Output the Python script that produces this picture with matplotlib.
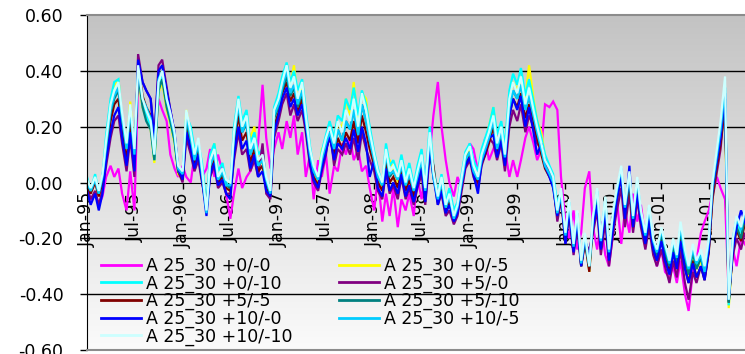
import matplotlib
matplotlib.use('Agg')
import matplotlib.pyplot as plt
import numpy as np
import pandas as pd
from matplotlib.colors import LinearSegmentedColormap

# ---------------- data ----------------
start_date = '1995-01-01'
n_points = 168  # semi-monthly observations, Jan-95 .. Dec-01

series_labels = ['A 25_30 +0/-0', 'A 25_30 +0/-5', 'A 25_30 +0/-10',
                 'A 25_30 +5/-0', 'A 25_30 +5/-5', 'A 25_30 +5/-10',
                 'A 25_30 +10/-0', 'A 25_30 +10/-5', 'A 25_30 +10/-10']

s_0_0 = [-0.02, -0.06, -0.04, -0.08, -0.05, 0.02, 0.06, 0.02, 0.05, -0.04, -0.10, 0.04,
         -0.10, 0.36, 0.30, 0.26, 0.22, 0.12, 0.30, 0.26, 0.22, 0.10, 0.05, 0.02,
         0.06, 0.02, 0.00, 0.10, 0.14, 0.02, 0.05, 0.12, 0.02, 0.10, 0.04, -0.04,
         -0.13, -0.04, 0.05, -0.02, 0.02, 0.04, 0.08, 0.14, 0.35, 0.16, 0.05, 0.12,
         0.18, 0.12, 0.22, 0.16, 0.24, 0.10, 0.18, 0.02, 0.10, -0.06, 0.08, 0.02,
         0.10, -0.04, 0.06, 0.04, 0.14, 0.10, 0.16, 0.08, 0.12, 0.04, 0.06, -0.02,
         -0.10, 0.02, -0.14, -0.04, -0.12, -0.02, -0.16, -0.06, -0.10, -0.04, -0.12, 0.02,
         -0.06, 0.04, 0.10, 0.24, 0.36, 0.20, 0.08, 0.00, -0.05, 0.02, -0.02, 0.06,
         0.14, 0.12, 0.04, 0.10, 0.16, 0.08, 0.12, 0.16, 0.20, 0.12, 0.02, 0.08,
         0.02, 0.08, 0.16, 0.20, 0.14, 0.08, 0.12, 0.28, 0.27, 0.29, 0.26, 0.02,
         -0.14, -0.20, -0.10, -0.24, -0.18, -0.02, 0.04, -0.16, -0.24, -0.14, -0.26, -0.30,
         -0.18, -0.06, -0.22, -0.10, -0.18, -0.04, -0.14, -0.08, -0.20, -0.14, -0.24, -0.30,
         -0.24, -0.32, -0.34, -0.30, -0.36, -0.28, -0.40, -0.46, -0.32, -0.28, -0.18, -0.14,
         -0.10, -0.04, 0.02, -0.02, -0.06, -0.40, -0.24, -0.30, -0.20, -0.22, -0.18, -0.20]

s_0_5 = [0.01, -0.03, 0.02, -0.05, 0.01, 0.14, 0.27, 0.34, 0.37, 0.22, 0.11, 0.29,
         0.09, 0.38, 0.27, 0.23, 0.19, 0.07, 0.32, 0.36, 0.26, 0.21, 0.14, 0.03,
         0.01, 0.26, 0.16, 0.09, 0.12, 0.04, -0.10, 0.08, 0.14, 0.02, 0.04, -0.02,
         -0.03, 0.16, 0.28, 0.19, 0.22, 0.16, 0.20, 0.08, 0.07, -0.01, -0.05, 0.24,
         0.30, 0.37, 0.41, 0.35, 0.42, 0.30, 0.34, 0.23, 0.10, 0.04, 0.00, 0.12,
         0.14, 0.19, 0.12, 0.21, 0.20, 0.30, 0.24, 0.36, 0.20, 0.32, 0.30, 0.17,
         0.08, 0.03, -0.02, 0.10, 0.08, 0.05, 0.00, 0.07, -0.01, 0.03, -0.03, 0.03,
         0.09, -0.02, 0.16, 0.03, -0.06, 0.01, -0.08, -0.04, -0.11, -0.08, 0.01, 0.09,
         0.12, 0.05, 0.02, 0.09, 0.13, 0.20, 0.27, 0.14, 0.19, 0.12, 0.30, 0.36,
         0.33, 0.38, 0.30, 0.42, 0.30, 0.22, 0.18, 0.09, 0.04, 0.01, -0.10, -0.04,
         -0.21, -0.08, -0.25, -0.11, -0.30, -0.19, -0.32, -0.13, -0.04, -0.22, -0.08, -0.27,
         -0.13, -0.04, 0.03, -0.11, 0.01, -0.14, 0.00, -0.12, -0.21, -0.11, -0.23, -0.27,
         -0.19, -0.25, -0.31, -0.23, -0.29, -0.18, -0.28, -0.34, -0.26, -0.31, -0.28, -0.34,
         -0.24, -0.06, 0.05, 0.14, 0.26, -0.45, -0.24, -0.16, -0.20, -0.14, -0.18, -0.16]

s_0_10 = [0.02, -0.03, 0.03, -0.04, 0.02, 0.17, 0.30, 0.36, 0.37, 0.23, 0.12, 0.27,
          0.10, 0.40, 0.28, 0.24, 0.20, 0.08, 0.33, 0.38, 0.28, 0.22, 0.15, 0.04,
          0.02, 0.24, 0.20, 0.12, 0.14, 0.07, -0.08, 0.10, 0.14, 0.04, 0.07, 0.00,
          -0.02, 0.20, 0.31, 0.22, 0.26, 0.14, 0.18, 0.10, 0.12, 0.00, -0.05, 0.27,
          0.32, 0.38, 0.43, 0.36, 0.40, 0.33, 0.37, 0.26, 0.13, 0.05, 0.01, 0.11,
          0.17, 0.22, 0.16, 0.24, 0.22, 0.30, 0.26, 0.34, 0.24, 0.33, 0.28, 0.20,
          0.11, 0.05, -0.01, 0.14, 0.06, 0.08, 0.03, 0.10, 0.02, 0.07, -0.01, 0.06,
          0.12, 0.00, 0.20, 0.06, -0.04, 0.03, -0.07, -0.02, -0.10, -0.07, 0.03, 0.11,
          0.14, 0.08, 0.04, 0.12, 0.16, 0.20, 0.27, 0.17, 0.22, 0.13, 0.33, 0.39,
          0.35, 0.41, 0.31, 0.37, 0.29, 0.22, 0.16, 0.10, 0.06, 0.03, -0.08, -0.03,
          -0.20, -0.08, -0.24, -0.12, -0.30, -0.20, -0.31, -0.14, -0.04, -0.22, -0.07, -0.26,
          -0.12, -0.04, 0.04, -0.10, 0.02, -0.14, 0.00, -0.12, -0.20, -0.10, -0.22, -0.26,
          -0.18, -0.24, -0.30, -0.22, -0.28, -0.17, -0.27, -0.32, -0.25, -0.30, -0.27, -0.32,
          -0.22, -0.02, 0.10, 0.20, 0.34, -0.44, -0.22, -0.14, -0.18, -0.12, -0.16, -0.14]

s_5_0 = [-0.02, -0.06, -0.03, -0.08, -0.03, 0.06, 0.16, 0.22, 0.24, 0.14, 0.04, 0.16,
         0.02, 0.46, 0.36, 0.33, 0.30, 0.16, 0.42, 0.44, 0.34, 0.26, 0.18, 0.04,
         0.00, 0.16, 0.10, 0.04, 0.08, 0.00, -0.08, 0.02, 0.06, -0.02, 0.00, -0.04,
         -0.04, 0.08, 0.18, 0.10, 0.12, 0.04, 0.08, 0.02, 0.14, -0.04, -0.06, 0.16,
         0.22, 0.28, 0.32, 0.24, 0.28, 0.22, 0.26, 0.18, 0.06, 0.00, -0.03, 0.04,
         0.10, 0.20, 0.06, 0.12, 0.10, 0.14, 0.10, 0.16, 0.08, 0.18, 0.12, 0.08,
         0.04, -0.03, -0.06, 0.04, -0.04, -0.01, -0.06, 0.02, -0.06, -0.02, -0.08, -0.02,
         0.03, -0.08, 0.10, 0.04, -0.08, -0.04, -0.12, -0.10, -0.15, -0.12, -0.03, 0.05,
         0.08, 0.02, -0.02, 0.06, 0.10, 0.16, 0.14, 0.08, 0.14, 0.04, 0.20, 0.26,
         0.22, 0.28, 0.18, 0.24, 0.20, 0.14, 0.12, 0.08, 0.04, 0.00, -0.14, -0.06,
         -0.22, -0.12, -0.26, -0.16, -0.30, -0.22, -0.24, -0.18, -0.10, -0.26, -0.14, -0.30,
         -0.18, -0.10, -0.02, -0.16, -0.04, -0.18, -0.06, -0.16, -0.24, -0.16, -0.26, -0.30,
         -0.24, -0.30, -0.36, -0.28, -0.34, -0.24, -0.36, -0.42, -0.32, -0.36, -0.30, -0.34,
         -0.24, -0.06, 0.04, 0.12, 0.30, -0.40, -0.26, -0.20, -0.24, -0.18, -0.22, -0.20]

s_5_5 = [-0.01, -0.04, 0.00, -0.05, 0.00, 0.10, 0.22, 0.28, 0.30, 0.18, 0.08, 0.22,
         0.07, 0.42, 0.31, 0.27, 0.24, 0.10, 0.37, 0.40, 0.29, 0.23, 0.16, 0.04,
         0.01, 0.20, 0.13, 0.06, 0.11, 0.01, -0.10, 0.04, 0.08, 0.00, 0.02, -0.02,
         -0.03, 0.13, 0.24, 0.15, 0.18, 0.07, 0.12, 0.04, 0.06, -0.02, -0.05, 0.20,
         0.25, 0.32, 0.36, 0.29, 0.32, 0.25, 0.30, 0.20, 0.08, 0.02, -0.01, 0.06,
         0.12, 0.16, 0.10, 0.16, 0.12, 0.18, 0.15, 0.22, 0.14, 0.24, 0.18, 0.12,
         0.06, 0.00, -0.03, 0.07, 0.00, 0.02, -0.02, 0.04, -0.03, 0.01, -0.05, 0.01,
         0.06, -0.05, 0.12, 0.06, -0.07, -0.02, -0.10, -0.07, -0.13, -0.10, -0.01, 0.07,
         0.10, 0.03, 0.00, 0.07, 0.10, 0.14, 0.20, 0.11, 0.16, 0.07, 0.24, 0.30,
         0.27, 0.32, 0.23, 0.28, 0.22, 0.16, 0.10, 0.05, 0.02, -0.01, -0.12, -0.05,
         -0.21, -0.09, -0.24, -0.13, -0.30, -0.21, -0.32, -0.15, -0.06, -0.23, -0.09, -0.27,
         -0.14, -0.06, 0.02, -0.12, 0.00, -0.16, -0.02, -0.14, -0.22, -0.12, -0.24, -0.28,
         -0.20, -0.27, -0.32, -0.25, -0.31, -0.20, -0.30, -0.36, -0.28, -0.34, -0.30, -0.35,
         -0.25, -0.05, 0.06, 0.14, 0.28, -0.43, -0.24, -0.17, -0.21, -0.15, -0.18, -0.16]

s_5_10 = [0.00, -0.03, 0.01, -0.04, 0.02, 0.13, 0.25, 0.30, 0.33, 0.22, 0.12, 0.25,
          0.10, 0.40, 0.27, 0.22, 0.19, 0.08, 0.33, 0.37, 0.27, 0.22, 0.15, 0.04,
          0.02, 0.22, 0.15, 0.08, 0.13, 0.03, -0.09, 0.06, 0.10, 0.01, 0.03, -0.01,
          -0.02, 0.16, 0.27, 0.18, 0.21, 0.10, 0.14, 0.06, 0.08, 0.00, -0.04, 0.23,
          0.27, 0.33, 0.38, 0.31, 0.34, 0.27, 0.32, 0.22, 0.10, 0.04, 0.01, 0.08,
          0.14, 0.17, 0.12, 0.19, 0.15, 0.22, 0.19, 0.26, 0.17, 0.28, 0.22, 0.15,
          0.08, 0.02, -0.01, 0.10, 0.02, 0.04, 0.01, 0.06, -0.01, 0.03, -0.03, 0.02,
          0.08, -0.03, 0.15, 0.02, -0.06, 0.00, -0.09, -0.05, -0.12, -0.09, 0.00, 0.08,
          0.11, 0.04, 0.01, 0.08, 0.12, 0.16, 0.22, 0.12, 0.18, 0.09, 0.27, 0.33,
          0.30, 0.35, 0.26, 0.31, 0.24, 0.18, 0.12, 0.06, 0.03, 0.00, -0.11, -0.04,
          -0.21, -0.09, -0.23, -0.13, -0.29, -0.21, -0.30, -0.15, -0.05, -0.21, -0.08, -0.25,
          -0.13, -0.05, 0.03, -0.11, 0.01, -0.15, -0.01, -0.13, -0.21, -0.11, -0.23, -0.27,
          -0.18, -0.25, -0.30, -0.23, -0.29, -0.17, -0.27, -0.33, -0.25, -0.31, -0.27, -0.33,
          -0.23, -0.03, 0.08, 0.17, 0.30, -0.43, -0.22, -0.16, -0.20, -0.13, -0.17, -0.15]

s_10_0 = [-0.03, -0.08, -0.04, -0.10, -0.04, 0.08, 0.18, 0.24, 0.27, 0.16, 0.06, 0.18,
          0.04, 0.44, 0.36, 0.33, 0.30, 0.15, 0.40, 0.42, 0.33, 0.26, 0.18, 0.05,
          0.01, 0.18, 0.12, 0.05, 0.10, 0.01, -0.12, 0.03, 0.07, -0.01, 0.01, -0.04,
          -0.06, 0.10, 0.20, 0.12, 0.15, 0.05, 0.10, 0.02, 0.04, -0.03, -0.05, 0.18,
          0.24, 0.30, 0.34, 0.27, 0.30, 0.24, 0.28, 0.20, 0.07, 0.01, -0.02, 0.05,
          0.11, 0.17, 0.08, 0.14, 0.12, 0.16, 0.12, 0.19, 0.11, 0.20, 0.14, 0.02,
          0.08, -0.02, -0.05, 0.05, -0.03, 0.00, -0.04, 0.03, -0.05, -0.01, -0.07, -0.01,
          0.05, -0.07, 0.12, 0.02, -0.08, -0.03, -0.11, -0.08, -0.14, -0.11, -0.01, 0.06,
          0.09, 0.03, -0.04, 0.07, 0.11, 0.16, 0.17, 0.09, 0.15, 0.06, 0.24, 0.30,
          0.26, 0.31, 0.20, 0.27, 0.18, 0.10, 0.14, 0.06, 0.02, -0.02, -0.12, -0.04,
          -0.22, -0.10, -0.25, -0.14, -0.30, -0.20, -0.27, -0.16, -0.08, -0.24, -0.10, -0.28,
          -0.16, -0.06, 0.02, -0.13, 0.06, -0.16, -0.04, -0.14, -0.22, -0.13, -0.24, -0.28,
          -0.21, -0.28, -0.33, -0.25, -0.31, -0.21, -0.31, -0.36, -0.29, -0.34, -0.30, -0.35,
          -0.24, -0.02, 0.08, 0.16, 0.32, -0.42, -0.24, -0.16, -0.10, -0.14, -0.18, -0.16]

s_10_5 = [0.00, -0.03, 0.01, -0.04, 0.02, 0.13, 0.26, 0.31, 0.34, 0.23, 0.12, 0.26,
          0.10, 0.41, 0.30, 0.27, 0.23, 0.10, 0.37, 0.40, 0.30, 0.24, 0.17, 0.05,
          0.03, 0.24, 0.16, 0.08, 0.14, 0.03, -0.11, 0.06, 0.10, 0.01, 0.04, -0.01,
          -0.01, 0.16, 0.28, 0.18, 0.22, 0.10, 0.14, 0.06, 0.08, 0.01, -0.04, 0.24,
          0.28, 0.34, 0.40, 0.32, 0.35, 0.28, 0.33, 0.22, 0.10, 0.04, 0.01, 0.08,
          0.14, 0.18, 0.12, 0.19, 0.15, 0.22, 0.19, 0.26, 0.17, 0.28, 0.22, 0.15,
          0.08, 0.02, -0.01, 0.10, 0.03, 0.04, 0.01, 0.06, -0.01, 0.03, -0.03, 0.02,
          0.08, -0.03, 0.16, 0.02, -0.06, 0.00, -0.09, -0.05, -0.13, -0.09, 0.00, 0.08,
          0.11, 0.04, 0.01, 0.08, 0.12, 0.16, 0.22, 0.12, 0.18, 0.09, 0.27, 0.33,
          0.30, 0.35, 0.26, 0.31, 0.24, 0.18, 0.12, 0.06, 0.03, 0.00, -0.11, -0.04,
          -0.19, -0.07, -0.23, -0.11, -0.29, -0.19, -0.30, -0.13, -0.03, -0.21, -0.06, -0.25,
          -0.11, -0.03, 0.05, -0.09, 0.03, -0.13, 0.01, -0.11, -0.19, -0.09, -0.21, -0.25,
          -0.17, -0.23, -0.29, -0.21, -0.27, -0.16, -0.26, -0.31, -0.24, -0.29, -0.26, -0.32,
          -0.21, -0.01, 0.10, 0.19, 0.34, -0.42, -0.20, -0.13, -0.17, -0.11, -0.15, -0.13]

s_10_10 = [0.01, -0.02, 0.02, -0.03, 0.03, 0.15, 0.28, 0.33, 0.36, 0.25, 0.14, 0.28,
           0.12, 0.42, 0.30, 0.26, 0.22, 0.10, 0.36, 0.40, 0.30, 0.25, 0.18, 0.06,
           0.04, 0.26, 0.18, 0.10, 0.16, 0.05, -0.10, 0.08, 0.12, 0.02, 0.05, 0.01,
           0.00, 0.18, 0.30, 0.20, 0.24, 0.12, 0.16, 0.08, 0.10, 0.02, -0.03, 0.26,
           0.30, 0.36, 0.42, 0.34, 0.38, 0.30, 0.36, 0.24, 0.12, 0.06, 0.02, 0.10,
           0.16, 0.20, 0.14, 0.22, 0.18, 0.26, 0.22, 0.30, 0.20, 0.32, 0.26, 0.18,
           0.10, 0.04, 0.00, 0.12, 0.04, 0.06, 0.02, 0.08, 0.00, 0.05, -0.02, 0.04,
           0.10, -0.02, 0.18, 0.04, -0.05, 0.02, -0.08, -0.04, -0.12, -0.08, 0.02, 0.10,
           0.13, 0.06, 0.02, 0.10, 0.14, 0.18, 0.24, 0.14, 0.20, 0.10, 0.30, 0.36,
           0.32, 0.38, 0.28, 0.34, 0.26, 0.20, 0.14, 0.08, 0.05, 0.02, -0.10, -0.02,
           -0.18, -0.06, -0.22, -0.10, -0.28, -0.18, -0.30, -0.12, -0.02, -0.20, -0.05, -0.24,
           -0.10, -0.02, 0.06, -0.08, 0.04, -0.12, 0.02, -0.10, -0.18, -0.08, -0.20, -0.24,
           -0.16, -0.22, -0.28, -0.20, -0.26, -0.14, -0.24, -0.30, -0.22, -0.28, -0.24, -0.30,
           -0.20, 0.00, 0.12, 0.22, 0.38, -0.42, -0.20, -0.12, -0.16, -0.10, -0.14, -0.12]

series_values = [s_0_0, s_0_5, s_0_10, s_5_0, s_5_5, s_5_10, s_10_0, s_10_5, s_10_10]
series_colors = ['#FF00FF', '#FFFF00', '#00FFFF', '#800080', '#800000',
                 '#008080', '#0000FF', '#00CCFF', '#CCFFFF']

x_tick_labels = ['Jan-95', 'Jul-95', 'Jan-96', 'Jul-96', 'Jan-97', 'Jul-97', 'Jan-98',
                 'Jul-98', 'Jan-99', 'Jul-99', 'Jan-00', 'Jul-00', 'Jan-01', 'Jul-01']
y_ticks = [0.6, 0.4, 0.2, 0.0, -0.2, -0.4, -0.6]
y_tick_labels = ['0.60', '0.40', '0.20', '0.00', '-0.20', '-0.40', '-0.60']

# ---------------- figure ----------------
plt.rcParams['font.family'] = ['DejaVu Sans']
W, H = 745, 354
fig = plt.figure(figsize=(W / 100, H / 100), dpi=100)
fig.patch.set_facecolor('white')
ax = fig.add_axes([87 / W, 4 / H, 670 / W, 335 / H])

dates = pd.date_range(start_date, periods=n_points, freq='SMS')
tick_dates = pd.to_datetime(x_tick_labels, format='%b-%y')

# gradient plot area
cmap = LinearSegmentedColormap.from_list('bg', ['#c3c3c3', '#fbfbfb'])
ax.imshow(np.linspace(0, 1, 256).reshape(-1, 1), cmap=cmap, aspect='auto',
          extent=[0, 1, 0, 1], transform=ax.transAxes, zorder=0, interpolation='bilinear')

for v in [0.4, 0.2, -0.2, -0.4]:
    ax.axhline(v, color='black', lw=1.0, zorder=1)

lines = []
for vals, col, lab in zip(series_values, series_colors, series_labels):
    ln, = ax.plot(dates, vals, color=col, lw=1.6, label=lab, zorder=2,
                  solid_joinstyle='miter')
    lines.append(ln)

ax.set_xlim(pd.Timestamp('1995-01-01'), pd.Timestamp('2002-01-01'))
ax.set_ylim(-0.6, 0.6)

ax.spines['bottom'].set_position(('data', 0))
ax.spines['bottom'].set_color('black')
ax.spines['bottom'].set_zorder(1.5)
ax.spines['left'].set_color('black')
ax.spines['top'].set_color('#8c8c8c')
ax.spines['top'].set_linewidth(1.5)
ax.spines['right'].set_visible(False)
ax.axhline(-0.6, color='#8c8c8c', lw=1.5, clip_on=False, zorder=3)

ax.set_yticks(y_ticks)
ax.set_yticklabels(y_tick_labels)
ax.tick_params(axis='y', direction='out', length=5, width=1, pad=12,
               labelsize=12.5, colors='black')

ax.set_xticks(tick_dates)
ax.set_xticklabels(x_tick_labels, rotation=90)
ax.tick_params(axis='x', direction='out', length=4, width=1, pad=3,
               labelsize=12.5, colors='black')

order = [0, 2, 4, 6, 8, 1, 3, 5, 7]
leg = ax.legend([lines[i] for i in order], [series_labels[i] for i in order],
                ncol=2, loc='upper left', bbox_to_anchor=(101 / W, 1 - 257 / H),
                bbox_transform=fig.transFigure, frameon=False, fontsize=12.5,
                handlelength=2.3, handletextpad=0.3, columnspacing=2.65,
                labelspacing=-0.04, borderpad=0, borderaxespad=0)
for lh in leg.get_lines():
    lh.set_linewidth(2)

fig.savefig('out.png', dpi=100)
